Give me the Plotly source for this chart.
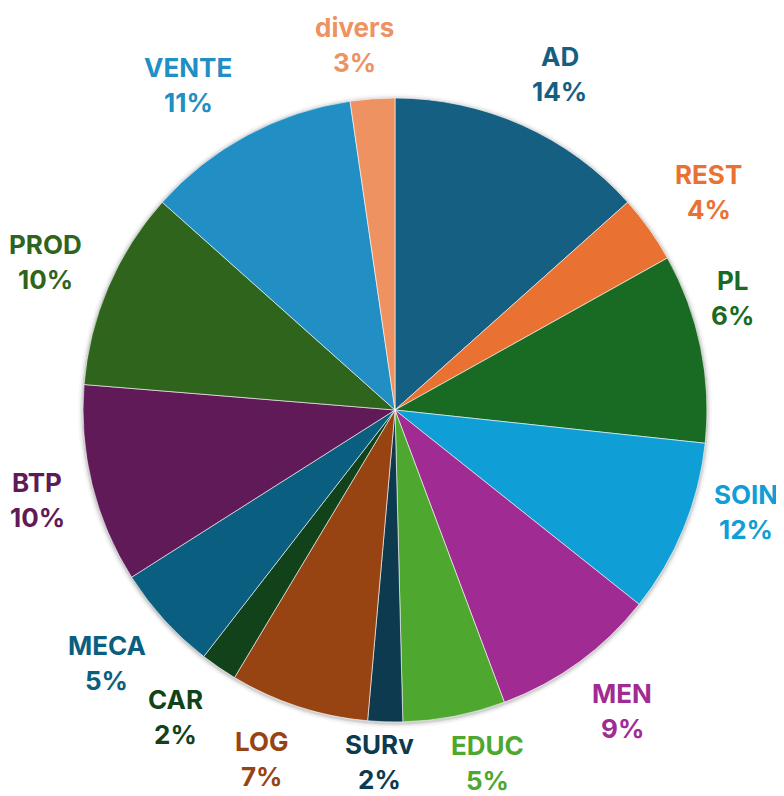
import math

import plotly.graph_objects as go

# slices in clockwise order from 12 o'clock
labels = ["AD", "REST", "PL", "SOIN", "MEN", "EDUC", "SURv", "LOG", "CAR", "MECA", "BTP", "PROD", "VENTE", "divers"]
values = [13.4, 3.5, 9.8, 9.0, 8.6, 5.3, 1.8, 7.2, 1.9, 5.5, 10.3, 10.3, 11.1, 2.3]
pct_text = [14, 4, 6, 12, 9, 5, 2, 7, 2, 5, 10, 10, 11, 3]
colors = [
    "#156082", "#E97132", "#196B24", "#0F9ED5", "#A02B93", "#4EA72E", "#0D3A4E",
    "#984312", "#11421A", "#0A5E7F", "#601A58", "#2F641C", "#218FC3", "#ED9260",
]

W, H = 784, 796
PAGE_PAD = 8  # body margin of the html page
L, T, SIZE = 83 - PAGE_PAD, 98 - PAGE_PAD, 624  # square plot area -> pie radius SIZE/2
R = SIZE / 2
FONT = "Inter"
FS = 26
LINE_GAP = 17.5  # half distance between name and percent lines
R_ANCHOR = R + 28  # where the label box touches
# labels that sit off their slice's natural spot (dragged in the original)
label_lift = {"PL": 37, "SOIN": 41, "SURv": 14, "EDUC": 7}
label_slide = {"PL": -14}

fig = go.Figure(
    go.Pie(
        labels=labels,
        values=values,
        sort=False,
        direction="clockwise",
        rotation=0,
        textinfo="none",
        hoverinfo="label+percent",
        marker=dict(colors=colors, line=dict(color="white", width=0.6)),
        showlegend=False,
    )
)

# soft halo like the office shadow
for extra, alpha in [(1.5, 0.10), (3, 0.06), (5, 0.03)]:
    d = extra / SIZE
    fig.add_shape(
        type="circle", xref="paper", yref="paper", layer="below",
        x0=-d, x1=1 + d, y0=-d - 1 / SIZE, y1=1 + d - 1 / SIZE,
        line=dict(width=0), fillcolor=f"rgba(0,0,0,{alpha})",
    )


def clamp(v):
    return max(-1.0, min(1.0, v))


# outside labels, placed along each slice's mid angle
total = sum(values)
cum = 0.0
for name, v, p, c in zip(labels, values, pct_text, colors):
    mid = (cum + v / 2) / total * 2 * math.pi
    cum += v
    s, co = math.sin(mid), math.cos(mid)
    pct = f"{p}%"
    hw = max(len(name) * 9.2, len(pct) * 8.6)
    hh = 26
    cx = R + R_ANCHOR * s + hw * clamp(4 * s) + label_slide.get(name, 0)
    cy = R + R_ANCHOR * co + hh * clamp(1.4 * co) + label_lift.get(name, 0)  # upward
    for txt, dy in [(name, LINE_GAP), (pct, -LINE_GAP)]:
        fig.add_annotation(
            x=cx / SIZE, y=(cy + dy) / SIZE, xref="paper", yref="paper",
            text=txt, showarrow=False, xanchor="center", yanchor="middle",
            font=dict(family=FONT, size=FS, color=c, weight=700),
        )

fig.update_layout(
    width=W,
    height=H,
    margin=dict(l=L, r=W - L - SIZE, t=T, b=H - T - SIZE, autoexpand=False),
    paper_bgcolor="white",
    plot_bgcolor="white",
)

fig.write_html("out.html")
